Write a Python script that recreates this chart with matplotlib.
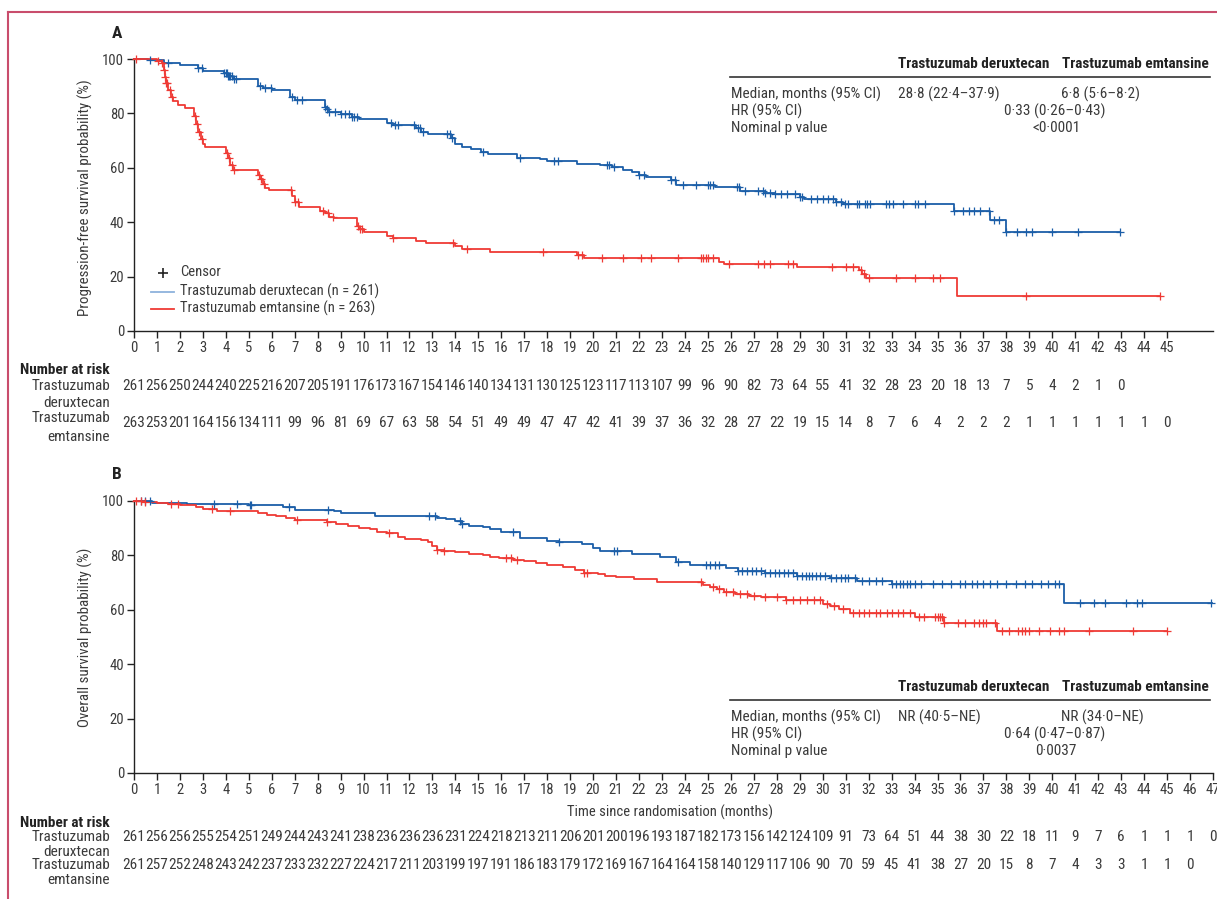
"""
Kaplan-Meier curves: progression-free survival (A) and overall survival (B),
trastuzumab deruxtecan vs trastuzumab emtansine, with number-at-risk tables.
"""

import numpy as np
import matplotlib
matplotlib.use('Agg')
from matplotlib import pyplot, transforms, font_manager
from matplotlib.lines import Line2D

# ---------------------------------------------------------------- data
# Panel A: progression-free survival (step times in months, survival in %)
pfs_dxd_t = [0, 0.6, 1.3, 2.0, 2.8, 3.0, 3.9, 4.1, 4.3, 5.4, 5.6, 6.0, 6.8,
             7.0, 8.3, 8.4, 8.5, 9.0, 9.5, 9.8, 11.0, 11.3, 12.3, 12.5, 12.8,
             13.8, 14.0, 14.3, 14.7, 15.1, 15.4, 16.7, 17.7, 18.0, 19.3, 20.3,
             20.8, 21.3, 21.7, 22.0, 22.3, 23.4, 23.6, 25.3, 26.4, 27.5, 27.9,
             29.0, 29.2, 30.6, 30.9, 35.7, 37.3, 38.0]
pfs_dxd_s = [100, 99.6, 98.4, 97.8, 96.8, 95.7, 94.8, 93.6, 92.6, 90.2, 89.2,
             88.6, 86.0, 85.0, 82.5, 81.5, 80.6, 79.8, 78.6, 77.8, 76.3, 75.6,
             74.5, 73.3, 72.3, 70.8, 68.8, 67.8, 66.8, 65.7, 65.0, 63.7, 63.2,
             62.5, 61.5, 61.0, 60.4, 59.3, 58.5, 57.5, 56.7, 55.6, 53.8, 52.8,
             51.6, 50.6, 50.3, 49.2, 48.5, 47.4, 46.8, 44.3, 40.8, 36.5]
pfs_dxd_end = 42.95
pfs_dxd_cens = [0.7, 1.5, 2.8, 2.95, 3.9, 4.0, 4.05, 4.1, 4.15, 4.2, 4.25, 4.35,
                4.45, 5.5, 5.7, 5.95, 6.9, 7.1, 7.3, 8.3, 8.4, 8.5, 8.75, 9.0,
                9.2, 9.35, 9.5, 9.6, 9.7, 11.2, 11.35, 11.5, 12.2, 12.35, 12.45,
                12.6, 13.65, 13.75, 13.85, 15.2, 16.8, 18.3, 18.45, 20.6, 20.7,
                20.9, 22.0, 22.2, 23.4, 23.55, 23.9, 24.5, 25.0, 25.1, 25.2,
                26.25, 26.35, 26.6, 27.2, 27.4, 27.5, 27.7, 27.9, 28.2, 28.45,
                28.8, 29.0, 29.1, 29.5, 29.75, 30.0, 30.25, 30.45, 30.6, 30.8,
                30.95, 31.1, 31.5, 31.6, 31.85, 31.95, 32.05, 32.75, 32.9,
                33.05, 33.5, 34.0, 34.15, 34.45, 35.7, 36.1, 36.35, 36.6, 36.85,
                37.25, 37.45, 37.7, 38.0, 38.45, 38.85, 39.1, 40.0, 41.1, 42.95]

pfs_tdm1_t = [0, 1.0, 1.2, 1.3, 1.35, 1.4, 1.5, 1.6, 1.7, 1.9, 2.2, 2.6, 2.7,
              2.8, 2.9, 3.0, 3.1, 4.0, 4.1, 4.2, 4.3, 5.4, 5.5, 5.6, 5.7, 5.9,
              6.9, 7.0, 7.2, 8.1, 8.3, 8.5, 8.7, 9.7, 9.8, 10.0, 11.0, 11.3,
              12.3, 12.7, 14.0, 14.3, 15.5, 19.3, 19.6, 25.5, 25.7, 28.9, 31.6,
              31.7, 31.9, 35.85]
pfs_tdm1_s = [100, 99.3, 98.5, 96.0, 93.5, 91.0, 88.5, 86.0, 84.5, 83.0, 82.0,
              79.0, 76.0, 73.0, 70.5, 68.8, 67.8, 65.5, 63.5, 61.0, 59.2, 57.5,
              56.0, 54.0, 52.5, 51.8, 49.5, 47.5, 45.7, 44.3, 43.2, 42.0, 41.5,
              38.5, 37.5, 36.5, 35.0, 34.3, 33.0, 32.3, 31.2, 30.1, 29.1, 28.0,
              26.7, 25.5, 24.6, 23.6, 22.5, 21.0, 19.4, 12.9]
pfs_tdm1_end = 44.7
pfs_tdm1_cens = [0.1, 1.05, 1.2, 1.3, 1.35, 1.4, 1.45, 1.55, 1.65, 2.65, 2.75,
                 2.85, 2.95, 4.05, 4.15, 4.25, 4.35, 5.45, 5.55, 5.65, 6.85,
                 7.0, 7.15, 8.25, 8.45, 8.65, 9.75, 9.85, 9.95, 11.3, 13.9,
                 14.5, 17.8, 19.35, 19.5, 20.4, 21.3, 22.1, 22.5, 23.7, 24.7,
                 24.8, 24.9, 25.0, 25.2, 25.9, 27.2, 27.45, 27.7, 28.5, 28.7,
                 30.4, 31.0, 31.3, 31.65, 31.8, 32.0, 33.2, 34.0, 34.8, 35.1,
                 38.85, 44.7]

# Panel B: overall survival
os_dxd_t = [0, 0.8, 2.3, 5.0, 6.5, 7.0, 8.7, 9.0, 9.7, 10.5, 13.2, 13.6, 14.0,
            14.3, 14.6, 15.2, 15.5, 16.0, 16.8, 18.0, 18.5, 19.5, 20.0, 20.3,
            21.7, 22.9, 23.6, 24.2, 25.8, 26.3, 27.5, 28.9, 30.3, 31.5, 33.0,
            40.53]
os_dxd_s = [100, 99.3, 98.8, 98.5, 97.7, 96.6, 96.2, 95.6, 95.3, 94.3, 93.7,
            93.3, 92.4, 91.5, 90.8, 90.3, 89.5, 88.5, 86.2, 85.3, 84.9, 84.2,
            82.5, 81.6, 80.4, 79.2, 77.6, 76.4, 75.2, 74.3, 73.3, 72.3, 71.5,
            70.6, 69.4, 62.5]
os_dxd_end = 46.95
os_dxd_cens = [0.3, 0.5, 0.7, 3.5, 4.5, 5.05, 5.1, 6.75, 8.45, 12.85, 13.1,
               14.2, 14.3, 16.5, 18.5, 20.9, 21.05, 23.7, 24.9, 25.1, 25.3,
               25.5, 26.3, 26.5, 26.7, 26.9, 27.1, 27.3, 27.5, 27.7, 27.9, 28.1,
               28.3, 28.5, 28.7, 28.9, 29.1, 29.25, 29.4, 29.55, 29.7, 29.9,
               30.1, 30.35, 30.6, 30.8, 30.95, 31.1, 31.4, 31.7, 32.0, 32.3,
               32.6, 33.0, 33.2, 33.35, 33.5, 33.65, 33.8, 34.0, 34.3, 34.8,
               35.2, 35.6, 36.0, 36.2, 36.5, 36.7, 37.0, 37.3, 37.6, 38.0, 38.4,
               38.8, 39.1, 39.5, 39.8, 40.1, 40.3, 41.2, 41.8, 42.3, 43.2, 43.7,
               43.9, 46.9]

os_tdm1_t = [0, 0.5, 1.0, 1.5, 2.0, 2.7, 3.0, 3.6, 5.4, 5.8, 6.2, 6.6, 7.0,
             8.4, 8.8, 9.3, 9.8, 10.3, 10.6, 11.0, 11.5, 11.8, 12.5, 12.8, 13.0,
             13.2, 13.5, 14.0, 14.6, 15.2, 15.5, 15.9, 16.5, 17.0, 17.5, 18.0,
             18.7, 19.2, 19.6, 20.2, 20.5, 21.0, 21.8, 22.8, 24.8, 25.1, 25.4,
             25.7, 26.2, 26.8, 27.3, 28.4, 30.0, 30.3, 30.7, 31.2, 34.0, 35.3,
             37.6]
os_tdm1_s = [100, 99.5, 99.3, 98.9, 98.4, 97.8, 96.9, 96.3, 95.5, 94.8, 94.2,
             93.8, 92.9, 92.3, 91.5, 90.8, 90.0, 89.5, 88.5, 88.0, 86.8, 86.0,
             85.5, 84.8, 83.5, 82.0, 81.5, 81.0, 80.6, 80.0, 79.5, 78.8, 78.3,
             77.8, 77.0, 76.4, 75.5, 74.5, 73.6, 73.1, 72.4, 71.9, 71.4, 70.3,
             69.2, 68.2, 67.4, 66.6, 65.8, 65.1, 64.6, 63.4, 62.2, 61.2, 60.3,
             58.7, 57.4, 55.2, 52.3]
os_tdm1_end = 45.0
os_tdm1_cens = [0.1, 0.3, 0.5, 1.6, 1.9, 3.4, 4.2, 7.1, 8.4, 11.1, 13.2, 13.5,
                16.2, 16.4, 16.7, 19.6, 19.75, 24.7, 25.2, 25.5, 25.8, 26.1,
                26.4, 26.7, 27.0, 27.5, 28.0, 28.4, 28.7, 29.0, 29.3, 29.6,
                29.9, 30.2, 30.5, 30.9, 31.3, 31.6, 31.8, 32.0, 32.3, 32.5,
                32.8, 33.0, 33.3, 33.5, 33.8, 34.2, 34.4, 34.9, 35.0, 35.1,
                35.2, 35.3, 35.9, 36.2, 36.6, 36.8, 37.0, 37.1, 37.5, 37.8,
                38.1, 38.5, 38.7, 38.8, 39.0, 39.4, 39.9, 40.3, 40.5, 41.6,
                43.5, 45.0]

# Number at risk (one value per month, starting at 0)
risk_pfs_dxd = [261, 256, 250, 244, 240, 225, 216, 207, 205, 191, 176, 173,
                167, 154, 146, 140, 134, 131, 130, 125, 123, 117, 113, 107, 99,
                96, 90, 82, 73, 64, 55, 41, 32, 28, 23, 20, 18, 13, 7, 5, 4, 2,
                1, 0]
risk_pfs_tdm1 = [263, 253, 201, 164, 156, 134, 111, 99, 96, 81, 69, 67, 63, 58,
                 54, 51, 49, 49, 47, 47, 42, 41, 39, 37, 36, 32, 28, 27, 22, 19,
                 15, 14, 8, 7, 6, 4, 2, 2, 2, 1, 1, 1, 1, 1, 1, 0]
risk_os_dxd = [261, 256, 256, 255, 254, 251, 249, 244, 243, 241, 238, 236, 236,
               236, 231, 224, 218, 213, 211, 206, 201, 200, 196, 193, 187, 182,
               173, 156, 142, 124, 109, 91, 73, 64, 51, 44, 38, 30, 22, 18, 11,
               9, 7, 6, 1, 1, 1, 0]
risk_os_tdm1 = [261, 257, 252, 248, 243, 242, 237, 233, 232, 227, 224, 217,
                211, 203, 199, 197, 191, 186, 183, 179, 172, 169, 167, 164, 164,
                158, 140, 129, 117, 106, 90, 70, 59, 45, 41, 38, 27, 20, 15, 8,
                7, 4, 3, 3, 1, 1, 0]

stats_pfs = ['28·8 (22·4–37·9)', '6·8 (5·6–8·2)', '0·33 (0·26–0·43)', '<0·0001']
stats_os = ['NR (40·5–NE)', 'NR (34·0–NE)', '0·64 (0·47–0·87)', '0·0037']

# ---------------------------------------------------------------- style
# prefer a condensed face, the journal figure uses a narrow sans
fonts = font_manager.fontManager.ttflist
narrow = None
for want in ('Liberation Sans Narrow', 'Roboto Condensed', 'Open Sans Condensed',
             'DejaVu Sans Condensed'):
    if any(f.name == want for f in fonts):
        narrow = (want, 'normal')
        break
if narrow is None:
    for f in fonts:
        if f.stretch in ('condensed', 'semi-condensed') and f.name in (
                'DejaVu Sans', 'Roboto', 'Open Sans', 'Noto Sans', 'Liberation Sans'):
            narrow = (f.name, f.stretch)
            break

if narrow is not None:
    pyplot.rcParams['font.family'] = [narrow[0], 'DejaVu Sans']
    pyplot.rcParams['font.stretch'] = narrow[1]
    FS = 10.5      # tick labels, legend
    FN = 11.0      # tables and numbers at risk
    FY = 10.8      # y-axis titles
else:
    pyplot.rcParams['font.family'] = ['Liberation Sans', 'DejaVu Sans']
    FS = 9.0
    FN = 8.5
    FY = 9.0

BLUE = '#1b5ea8'
RED = '#ef3a35'
TXT = '#3a3a3a'
W, H = 1217, 899


def fx(x):
    return x / W


def fy(y):
    return 1 - y / H


def km(ax, t, s, end, cens, color):
    t = np.asarray(t)
    s = np.asarray(s)
    ax.step(np.append(t, end), np.append(s, s[-1]), where='post',
            color=color, lw=1.3, clip_on=False, zorder=3)
    ct = np.asarray(cens)
    idx = np.searchsorted(t, ct, side='right') - 1
    ax.plot(ct, s[idx], linestyle='none', marker='+', ms=6, mew=0.9,
            color=color, clip_on=False, zorder=4)


def style_axis(ax, nticks):
    ax.set_xlim(0, 47)
    ax.set_ylim(0, 100)
    ax.set_xticks(range(nticks + 1))
    ax.set_yticks(range(0, 101, 20))
    for side in ('top', 'right'):
        ax.spines[side].set_visible(False)
    for side in ('left', 'bottom'):
        ax.spines[side].set_color('#222222')
        ax.spines[side].set_linewidth(1.0)
    ax.tick_params(direction='out', length=5, width=1.0, colors='#222222',
                   labelcolor=TXT, labelsize=FS, pad=2)


def risk_table(ax, fig, rows_y, values, label_y):
    trans = transforms.blended_transform_factory(ax.transData, fig.transFigure)
    for y, vals in zip(rows_y, values):
        for month, n in enumerate(vals):
            ax.text(month, fy(y), str(n), transform=trans, ha='center',
                    va='center', fontsize=FN, color=TXT, clip_on=False)
    fig.text(fx(20), fy(label_y[0]), 'Number at risk', fontweight='bold',
             ha='left', va='center', fontsize=FN, color='#222222')
    for y, lab in zip(label_y[1:], ['Trastuzumab', 'deruxtecan',
                                    'Trastuzumab', 'emtansine']):
        fig.text(fx(110), fy(y), lab, ha='right', va='center', fontsize=FN,
                 color=TXT)


def stats_table(fig, top, vals):
    fig.text(fx(898), fy(top), 'Trastuzumab deruxtecan', fontweight='bold',
             ha='left', va='center', fontsize=FN, color='#222222')
    fig.text(fx(1209), fy(top), 'Trastuzumab emtansine', fontweight='bold',
             ha='right', va='center', fontsize=FN, color='#222222')
    fig.add_artist(Line2D([fx(730), fx(1210)], [fy(top + 13), fy(top + 13)],
                          color='#333333', lw=1.2))
    rows = ['Median, months (95% CI)', 'HR (95% CI)', 'Nominal p value']
    for i, lab in enumerate(rows):
        fig.text(fx(731), fy(top + 30 + 17 * i), lab, ha='left', va='center',
                 fontsize=FN, color=TXT)
    fig.text(fx(898), fy(top + 30), vals[0], ha='left', va='center',
             fontsize=FN, color=TXT)
    fig.text(fx(1061), fy(top + 30), vals[1], ha='left', va='center',
             fontsize=FN, color=TXT)
    fig.text(fx(1055), fy(top + 47), vals[2], ha='center', va='center',
             fontsize=FN, color=TXT)
    fig.text(fx(1056), fy(top + 64), vals[3], ha='center', va='center',
             fontsize=FN, color=TXT)


fig = pyplot.figure(figsize=(12.17, 8.99), dpi=100)

# frame in journal style
border = '#c94d6c'
fig.add_artist(Line2D([fx(8), fx(8)], [fy(12), fy(H)], color=border, lw=1.5))
fig.add_artist(Line2D([fx(8), fx(W)], [fy(12), fy(12)], color=border, lw=1.5))

# ---------------------------------------------------------------- panel A
axA = fig.add_axes([fx(134), fy(331), (1213 - 134) / W, (331 - 59) / H])
km(axA, pfs_dxd_t, pfs_dxd_s, pfs_dxd_end, pfs_dxd_cens, BLUE)
km(axA, pfs_tdm1_t, pfs_tdm1_s, pfs_tdm1_end, pfs_tdm1_cens, RED)
style_axis(axA, 45)
fig.text(fx(112), fy(33), 'A', fontweight='bold', fontsize=12.5,
         ha='left', va='center', color='#222222')
fig.text(fx(85), fy(198), 'Progression-free survival probability (%)',
         rotation=90, ha='center', va='center', fontsize=FY, color=TXT)
stats_table(fig, 64, stats_pfs)

# legend
fig.add_artist(Line2D([fx(163)], [fy(273)], marker='+', ms=7, mew=1.2,
                      color='#222222', linestyle='none'))
fig.text(fx(180), fy(272), 'Censor', ha='left', va='center', fontsize=FS,
         color=TXT)
fig.add_artist(Line2D([fx(151), fx(174)], [fy(292), fy(292)],
                      color='#8db2dc', lw=1.3))
fig.text(fx(180), fy(291), 'Trastuzumab deruxtecan (n = 261)', ha='left',
         va='center', fontsize=FS, color=TXT)
fig.add_artist(Line2D([fx(151), fx(174)], [fy(309), fy(309)],
                      color=RED, lw=1.3))
fig.text(fx(180), fy(308), 'Trastuzumab emtansine (n = 263)', ha='left',
         va='center', fontsize=FS, color=TXT)

risk_table(axA, fig, [386, 423], [risk_pfs_dxd, risk_pfs_tdm1],
           [370, 386, 403, 418, 437])

# ---------------------------------------------------------------- panel B
axB = fig.add_axes([fx(134), fy(773), (1213 - 134) / W, (773 - 500.7) / H])
km(axB, os_dxd_t, os_dxd_s, os_dxd_end, os_dxd_cens, BLUE)
km(axB, os_tdm1_t, os_tdm1_s, os_tdm1_end, os_tdm1_cens, RED)
style_axis(axB, 47)
fig.text(fx(112), fy(475), 'B', fontweight='bold', fontsize=12.5,
         ha='left', va='center', color='#222222')
fig.text(fx(85), fy(637), 'Overall survival probability (%)',
         rotation=90, ha='center', va='center', fontsize=FY, color=TXT)
stats_table(fig, 687, stats_os)
fig.text(fx(670), fy(812), 'Time since randomisation (months)', ha='center',
         va='center', fontsize=FS, color=TXT)

risk_table(axB, fig, [837, 865], [risk_os_dxd, risk_os_tdm1],
           [823, 837, 852, 865, 880])

fig.savefig('out.png', dpi=100)
